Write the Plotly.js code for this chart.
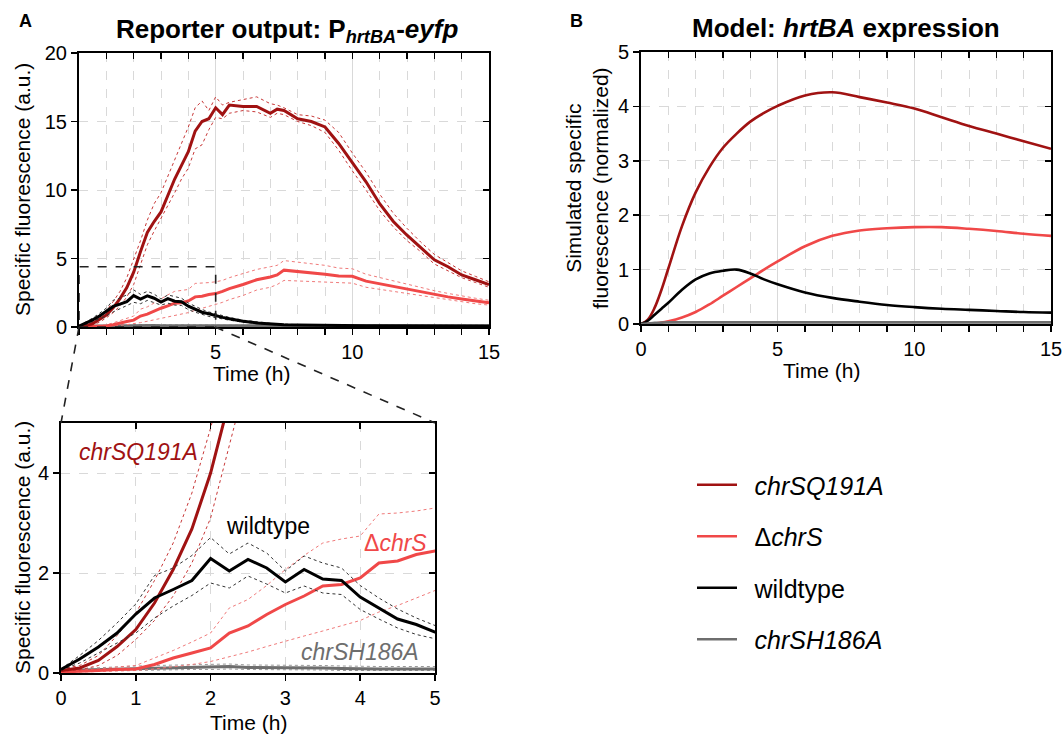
<!DOCTYPE html>
<html><head><meta charset="utf-8">
<script src="https://cdn.plot.ly/plotly-3.0.1.min.js"></script>
<style>html,body{margin:0;padding:0;background:#fff}#chart{width:1062px;height:734px}</style>
</head><body><div id="chart"></div>
<script>
// ---------- data: reporter measurements (panel A + inset) ----------
const T = [0,0.25,0.5,0.75,1,1.25,1.5,1.75,2,2.25,2.5,2.75,3,3.25,3.5,3.75,4,4.25,4.5,4.75,5,5.25,5.5,6,6.5,7,7.25,7.5,8,8.5,9,9.5,10,10.5,11,11.5,12,12.5,13,13.5,14,14.5,15];

const q191Mean = [0.05,0.1,0.25,0.53,0.87,1.4,2.07,2.88,4.0,5.5,6.9,7.7,8.4,9.6,10.8,11.8,12.8,14.3,15.0,15.2,16.0,15.5,16.2,16.1,16.1,15.6,15.9,15.8,15.2,15.0,14.6,13.4,12.0,10.6,9.0,7.7,6.7,5.8,4.9,4.4,3.8,3.45,3.1];
const q191Upper = [0.08,0.15,0.35,0.75,1.2,1.85,2.6,3.6,4.9,6.3,7.8,9.0,9.8,11.0,12.2,13.3,14.6,16.0,16.5,15.8,16.8,16.2,16.4,16.6,16.8,16.3,16.2,16.0,15.5,15.4,15.1,14.2,12.7,11.3,9.7,8.3,7.2,6.2,5.3,4.7,4.1,3.7,3.3];
const q191Lower = [0.03,0.06,0.15,0.35,0.67,1.05,1.54,2.2,3.1,4.6,6.0,7.0,7.9,8.8,9.8,10.8,11.6,13.0,13.3,14.4,15.3,15.2,15.6,15.8,15.7,15.3,15.6,15.5,15.0,14.7,14.2,12.9,11.4,10.0,8.5,7.3,6.3,5.5,4.6,4.1,3.6,3.25,2.9];

const delMean = [0.02,0.03,0.05,0.07,0.08,0.17,0.3,0.4,0.5,0.8,0.94,1.17,1.37,1.54,1.74,1.77,1.9,2.2,2.24,2.37,2.44,2.6,2.8,3.1,3.45,3.65,3.8,4.15,4.05,4.0,3.85,3.72,3.7,3.35,3.15,2.95,2.75,2.55,2.4,2.2,2.05,1.9,1.77];
const delUpper = [0.03,0.05,0.08,0.12,0.15,0.3,0.45,0.62,0.8,1.3,1.47,1.75,2.07,2.35,2.6,2.68,2.74,3.18,3.2,3.24,3.3,3.4,3.6,3.9,4.2,4.4,4.5,4.85,4.75,4.65,4.5,4.3,4.25,3.85,3.6,3.35,3.1,2.85,2.65,2.45,2.25,2.1,1.95];
const delLower = [0.01,0.02,0.03,0.04,0.05,0.08,0.12,0.17,0.23,0.32,0.42,0.53,0.64,0.74,0.84,0.94,1.05,1.22,1.35,1.5,1.65,1.8,2.0,2.3,2.7,2.9,3.1,3.4,3.35,3.35,3.25,3.2,3.2,2.9,2.75,2.6,2.45,2.25,2.15,1.95,1.85,1.7,1.6];

const wtMean = [0.07,0.28,0.52,0.8,1.18,1.5,1.67,1.85,2.29,2.04,2.27,2.1,1.82,2.07,1.88,1.85,1.52,1.3,1.08,0.97,0.82,0.7,0.6,0.42,0.3,0.22,0.2,0.17,0.14,0.12,0.11,0.1,0.1,0.09,0.09,0.09,0.08,0.08,0.08,0.08,0.08,0.08,0.08];
const wtUpper = [0.08,0.35,0.65,1.0,1.38,1.95,2.1,2.35,2.71,2.38,2.6,2.4,2.04,2.34,2.2,2.1,1.75,1.5,1.28,1.1,0.95,0.82,0.7,0.5,0.36,0.27,0.24,0.21,0.17,0.15,0.13,0.12,0.12,0.11,0.11,0.11,0.1,0.1,0.1,0.1,0.1,0.1,0.1];
const wtLower = [0.06,0.2,0.4,0.6,0.8,1.1,1.34,1.55,1.8,1.7,1.94,1.78,1.6,1.74,1.6,1.57,1.27,1.08,0.9,0.77,0.68,0.58,0.5,0.35,0.25,0.18,0.16,0.14,0.12,0.1,0.09,0.08,0.08,0.07,0.07,0.07,0.07,0.07,0.07,0.07,0.07,0.07,0.07];

const h186Mean = [0.05,0.06,0.07,0.08,0.09,0.1,0.11,0.12,0.12,0.13,0.11,0.11,0.1,0.1,0.1,0.09,0.08,0.08,0.08,0.08,0.08,0.08,0.08,0.08,0.08,0.08,0.08,0.08,0.08,0.08,0.08,0.08,0.08,0.08,0.08,0.08,0.08,0.08,0.08,0.08,0.08,0.08,0.08];
const h186Upper = [0.07,0.09,0.11,0.13,0.14,0.15,0.16,0.17,0.18,0.18,0.16,0.16,0.15,0.15,0.15,0.14,0.13,0.13,0.13,0.13,0.13,0.13,0.13,0.13,0.13,0.13,0.13,0.13,0.13,0.13,0.13,0.13,0.13,0.13,0.13,0.13,0.13,0.13,0.13,0.13,0.13,0.13,0.13];
const h186Lower = [0.03,0.04,0.04,0.05,0.05,0.06,0.07,0.07,0.07,0.08,0.07,0.07,0.06,0.06,0.06,0.05,0.05,0.05,0.05,0.05,0.05,0.05,0.05,0.05,0.05,0.05,0.05,0.05,0.05,0.05,0.05,0.05,0.05,0.05,0.05,0.05,0.05,0.05,0.05,0.05,0.05,0.05,0.05];

// ---------- data: model (panel B) ----------
const TM = [0,0.25,0.5,0.75,1,1.5,2,2.5,3,3.5,4,4.5,5,6,7,8,9,10,11,12,13,14,15];
const modelQ191 = [0,0.08,0.3,0.63,1.02,1.8,2.42,2.88,3.24,3.5,3.72,3.88,4.01,4.2,4.26,4.17,4.07,3.96,3.8,3.64,3.5,3.36,3.22];
const modelDel  = [0,0.002,0.01,0.025,0.05,0.12,0.22,0.36,0.52,0.68,0.84,1.0,1.15,1.43,1.62,1.72,1.76,1.78,1.78,1.75,1.71,1.66,1.62];
const modelWT   = [0,0.06,0.17,0.28,0.39,0.63,0.82,0.93,0.98,1.0,0.93,0.82,0.73,0.58,0.48,0.41,0.35,0.31,0.28,0.26,0.24,0.22,0.21];
const modelH186 = [0,0.01,0.02,0.025,0.03,0.03,0.03,0.03,0.03,0.03,0.03,0.03,0.03,0.03,0.03,0.03,0.03,0.03,0.03,0.03,0.03,0.03,0.03];

const seriesNames = ['<i>chrSQ191A</i>','Δ<i>chrS</i>','wildtype','<i>chrSH186A</i>'];

// ---------- style ----------
const W = 1062, H = 734;
const px = v => v / W, py = v => 1 - v / H;
const FONT = 'Liberation Sans, Arial, Helvetica, sans-serif';
const C = {q:'#a01212', d:'#f04848', w:'#000000', h:'#6e6e6e'};
const CD = {q:'#c83838', d:'#f07a7a', w:'#333333', h:'#999999'};
const GRID = '#d9d9d9';

const expSeries = [
  {key:'h', mean:h186Mean, up:h186Upper, lo:h186Lower},
  {key:'d', mean:delMean, up:delUpper, lo:delLower},
  {key:'q', mean:q191Mean, up:q191Upper, lo:q191Lower},
  {key:'w', mean:wtMean, up:wtUpper, lo:wtLower}
];

const traces = [];
[['x','y'],['x2','y2']].forEach(([xa,ya]) => {
  expSeries.forEach(s => {
    [s.up, s.lo].forEach(b => traces.push({x:T, y:b, xaxis:xa, yaxis:ya, type:'scatter', mode:'lines',
      line:{color:CD[s.key], width:1, dash:'dot'}, showlegend:false, hoverinfo:'skip'}));
    traces.push({x:T, y:s.mean, xaxis:xa, yaxis:ya, type:'scatter', mode:'lines',
      line:{color:C[s.key], width:3}, showlegend:false});
  });
});
const model = [['q',modelQ191,0],['d',modelDel,1],['w',modelWT,2],['h',modelH186,3]];
model.forEach(([k,arr,i]) => traces.push({x:TM, y:arr, xaxis:'x3', yaxis:'y3', type:'scatter', mode:'lines',
  line:{color:C[k], width:2.6, shape:'spline'}, name:'\u2002' + seriesNames[i], legendgroup:'g'+i, showlegend:true}));
// overlay axes carrying the inward mirrored ticks
[['x4','y4'],['x5','y5'],['x6','y6']].forEach(([xa,ya]) => traces.push({x:[null], y:[null], xaxis:xa, yaxis:ya, type:'scatter', mode:'lines', showlegend:false, hoverinfo:'skip'}));

const tickBase = {showline:true, linewidth:2, linecolor:'#000', ticks:'outside', ticklen:6, tickwidth:1.5, tickcolor:'#000',
  zeroline:false, tickfont:{size:20, color:'#000', family:FONT}, fixedrange:true, ticklabeloverflow:'allow'};
const topBase = {showline:true, linewidth:2, linecolor:'#000', ticks:'inside', ticklen:6, tickwidth:1.5, tickcolor:'#000',
  showticklabels:false, showgrid:false, zeroline:false, side:'top', tickmode:'array', fixedrange:true};
const rightBase = Object.assign({}, topBase, {side:'right'});

const layout = {
  width:W, height:H, margin:{l:0,r:0,t:0,b:0}, paper_bgcolor:'#fff', plot_bgcolor:'#fff',
  font:{family:FONT, color:'#000'}, hovermode:false,
  // panel A main
  xaxis: Object.assign({}, tickBase, {domain:[px(79),px(489)], anchor:'y', range:[0,15], tickmode:'array',
    tickvals:[5,10,15], showgrid:true, gridcolor:GRID, gridwidth:1,
    minor:{tickmode:'linear', tick0:0, dtick:1, ticks:'outside', ticklen:6, tickwidth:1.5, tickcolor:'#000',
      showgrid:true, gridcolor:GRID, griddash:'dash', gridwidth:1}}),
  yaxis: Object.assign({}, tickBase, {domain:[py(327),py(53)], anchor:'x', range:[0,20], tickmode:'array',
    tickvals:[0,5,10,15,20], showgrid:true, gridcolor:GRID, griddash:'dash'}),
  xaxis4: Object.assign({}, topBase, {overlaying:'x', anchor:'y', range:[0,15], tickvals:[1,2,3,4,5,6,7,8,9,10,11,12,13,14]}),
  yaxis4: Object.assign({}, rightBase, {overlaying:'y', anchor:'x', range:[0,20], tickvals:[5,10,15]}),
  // inset
  xaxis2: Object.assign({}, tickBase, {domain:[px(61),px(435)], anchor:'y2', range:[0,5], tickmode:'array',
    tickvals:[0,1,2,3,4,5], showgrid:true, gridcolor:GRID, griddash:'dash'}),
  yaxis2: Object.assign({}, tickBase, {domain:[py(673),py(423)], anchor:'x2', range:[0,5], tickmode:'array',
    tickvals:[0,2,4], showgrid:true, gridcolor:GRID, griddash:'dash'}),
  xaxis5: Object.assign({}, topBase, {overlaying:'x2', anchor:'y2', range:[0,5], tickvals:[1,2,3,4]}),
  yaxis5: Object.assign({}, rightBase, {overlaying:'y2', anchor:'x2', range:[0,5], tickvals:[2,4]}),
  // panel B
  xaxis3: Object.assign({}, tickBase, {domain:[px(641),px(1051)], anchor:'y3', range:[0,15], tickmode:'array',
    tickvals:[0,5,10,15], showgrid:true, gridcolor:GRID, gridwidth:1,
    minor:{tickmode:'linear', tick0:0, dtick:1, ticks:'outside', ticklen:6, tickwidth:1.5, tickcolor:'#000',
      showgrid:true, gridcolor:GRID, griddash:'dash', gridwidth:1}}),
  yaxis3: Object.assign({}, tickBase, {domain:[py(324),py(52)], anchor:'x3', range:[0,5], tickmode:'array',
    tickvals:[0,1,2,3,4,5], showgrid:true, gridcolor:GRID, griddash:'dash'}),
  xaxis6: Object.assign({}, topBase, {overlaying:'x3', anchor:'y3', range:[0,15], tickvals:[1,2,3,4,5,6,7,8,9,10,11,12,13,14]}),
  yaxis6: Object.assign({}, rightBase, {overlaying:'y3', anchor:'x3', range:[0,5], tickvals:[1,2,3,4]}),
  legend:{x:px(692), y:py(462), xanchor:'left', yanchor:'top', bgcolor:'rgba(0,0,0,0)', borderwidth:0,
    font:{size:25, family:FONT, color:'#000'}, traceorder:'grouped', tracegroupgap:16, itemwidth:40},
  shapes:[
    {type:'rect', xref:'x', yref:'y', x0:0, x1:5, y0:0, y1:4.4, line:{color:'#222', width:1.6, dash:'dash'}},
    {type:'line', xref:'paper', yref:'paper', x0:px(79), y0:py(327), x1:px(61), y1:py(423), line:{color:'#222', width:1.6, dash:'dash'}},
    {type:'line', xref:'paper', yref:'paper', x0:px(215), y0:py(327), x1:px(435), y1:py(423), line:{color:'#222', width:1.6, dash:'dash'}}
  ],
  annotations:[]
};
const ann = (text, x, y, o) => layout.annotations.push(Object.assign({text, xref:'paper', yref:'paper', x:px(x), y:py(y),
  xanchor:'center', yanchor:'middle', showarrow:false, font:{size:21, family:FONT, color:'#000'}}, o||{}));
ann('<b>A</b>', 25, 21, {font:{size:18, family:FONT}});
ann('<b>B</b>', 576, 21, {font:{size:18, family:FONT}});
ann('<b>Reporter output: P<sub><i>hrtBA</i></sub>-<i>eyfp</i></b>', 287, 30, {font:{size:26, family:FONT}});
ann('<b>Model: <i>hrtBA</i> expression</b>', 846, 28, {font:{size:26, family:FONT}});
ann('Specific fluorescence (a.u.)', 23, 190, {textangle:-90});
ann('Specific fluorescence (a.u.)', 22, 548, {textangle:-90});
ann('Simulated specific<br>fluorescence (normalized)', 587, 188, {textangle:-90});
ann('Time (h)', 251, 373);
ann('Time (h)', 821, 370);
ann('Time (h)', 248, 722);
ann('<i>chrSQ191A</i>', 138, 452, {font:{size:23, family:FONT, color:C.q}});
ann('wildtype', 268, 526, {font:{size:23, family:FONT, color:'#000'}});
ann('Δ<i>chrS</i>', 395, 543, {font:{size:23, family:FONT, color:C.d}});
ann('<i>chrSH186A</i>', 360, 652, {font:{size:23, family:FONT, color:C.h}});

Plotly.newPlot('chart', traces, layout, {staticPlot:true, displayModeBar:false});
</script>
</body></html>
